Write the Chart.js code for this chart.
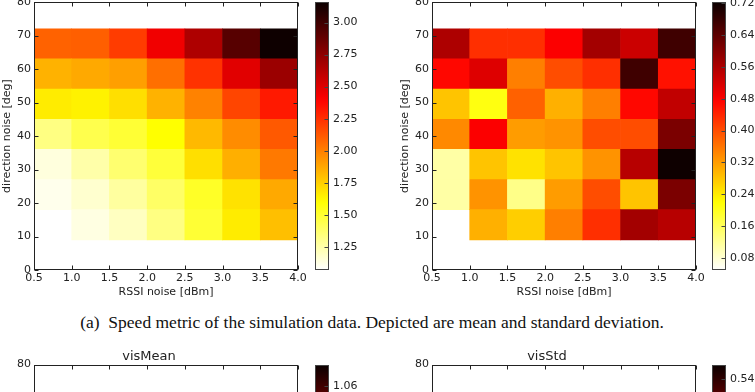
<!DOCTYPE html>
<html lang="en">
<head>
    <meta charset="UTF-8">
    <title>Speed metric heatmaps</title>
    <style>
        body {
            margin: 0;
            width: 755px;
            height: 392px;
            overflow: hidden;
            position: relative;
            background: #fff;
        }
        canvas, .caption {
            position: absolute;
        }
        .caption {
            left: 0;
            top: 311px;
            width: 744px;
            text-align: center;
            font: 17.5px "Liberation Serif", "DejaVu Serif", serif;
            color: #111;
            line-height: 22px;
        }
    </style>
    <script src="https://cdn.jsdelivr.net/npm/chart.js"></script>
</head>
<body>
    <canvas id="meanChart" width="315" height="300" style="left:0;top:0"></canvas>
    <canvas id="meanBar" width="70" height="300" style="left:300px;top:0"></canvas>
    <canvas id="stdChart" width="315" height="300" style="left:398px;top:0"></canvas>
    <canvas id="stdBar" width="70" height="300" style="left:697px;top:0"></canvas>
    <div class="caption">(a)&nbsp; Speed metric of the simulation data. Depicted are mean and standard deviation.</div>
    <canvas id="visMeanChart" width="315" height="323" style="left:0;top:340px"></canvas>
    <canvas id="visMeanBar" width="70" height="323" style="left:300px;top:340px"></canvas>
    <canvas id="visStdChart" width="315" height="323" style="left:398px;top:340px"></canvas>
    <canvas id="visStdBar" width="70" height="323" style="left:697px;top:340px"></canvas>

    <script>
        // cell edges of the grid
        const rssiEdges = [0.5, 1.0, 1.5, 2.0, 2.5, 3.0, 3.5, 4.0];
        const directionEdges = [9, 18, 27, 36, 45, 54, 63, 72];

        // axis ticks
        const xTicks = [0.5, 1.0, 1.5, 2.0, 2.5, 3.0, 3.5, 4.0];
        const yTicks = [0, 10, 20, 30, 40, 50, 60, 70, 80];

        // speed mean, one list per direction row (bottom row first), null = no data
        const meanRow10 = [null, 1.13, 1.20, 1.33, 1.49, 1.66, 1.80];
        const meanRow20 = [1.11, 1.17, 1.27, 1.39, 1.52, 1.69, 1.87];
        const meanRow30 = [1.14, 1.25, 1.37, 1.48, 1.70, 1.85, 2.02];
        const meanRow40 = [1.33, 1.44, 1.49, 1.60, 1.82, 1.96, 2.12];
        const meanRow50 = [1.66, 1.64, 1.70, 1.84, 1.99, 2.18, 2.32];
        const meanRow60 = [1.84, 1.87, 1.90, 2.05, 2.24, 2.49, 2.71];
        const meanRow70 = [2.09, 2.10, 2.21, 2.44, 2.65, 2.92, 3.15];

        // speed standard deviation
        const stdRow10 = [null, 0.30, 0.27, 0.35, 0.43, 0.57, 0.55];
        const stdRow20 = [0.11, 0.33, 0.13, 0.32, 0.40, 0.28, 0.61];
        const stdRow30 = [0.11, 0.28, 0.25, 0.28, 0.33, 0.55, 0.72];
        const stdRow40 = [0.34, 0.48, 0.32, 0.33, 0.40, 0.40, 0.61];
        const stdRow50 = [0.28, 0.21, 0.38, 0.30, 0.35, 0.47, 0.54];
        const stdRow60 = [0.47, 0.51, 0.35, 0.40, 0.43, 0.67, 0.46];
        const stdRow70 = [0.56, 0.43, 0.43, 0.48, 0.57, 0.53, 0.67];

        // colour ranges and colourbar ticks
        const meanRange = [1.07, 3.16];
        const meanBarTicks = [1.25, 1.50, 1.75, 2.00, 2.25, 2.50, 2.75, 3.00];
        const stdRange = [0.05, 0.723];
        const stdBarTicks = [0.08, 0.16, 0.24, 0.32, 0.40, 0.48, 0.56, 0.64, 0.72];
        const visMeanRange = [0.35, 1.12];
        const visMeanBarTicks = [0.46, 0.56, 0.66, 0.76, 0.86, 0.96, 1.06];
        const visStdRange = [0.0, 0.57];
        const visStdBarTicks = [0.06, 0.12, 0.18, 0.24, 0.30, 0.36, 0.42, 0.48, 0.54];

        const FONT = 'DejaVu Sans';
        const INK = '#222';

        // matplotlib "hot_r" colour map
        function hotR(t) {
            const x = 1 - Math.min(1, Math.max(0, t));
            const r = x < 0.365079 ? 0.0416 + (1 - 0.0416) * x / 0.365079 : 1;
            const g = x < 0.365079 ? 0 : (x < 0.746032 ? (x - 0.365079) / (0.746032 - 0.365079) : 1);
            const b = x < 0.746032 ? 0 : (x - 0.746032) / (1 - 0.746032);
            return 'rgb(' + Math.round(r * 255) + ',' + Math.round(g * 255) + ',' + Math.round(b * 255) + ')';
        }

        // draws the frame and inward tick marks like matplotlib
        const frameTicks = {
            id: 'frameTicks',
            afterDraw(chart, args, opts) {
                const { ctx, chartArea: a } = chart;
                const L = Math.round(a.left) + 0.5, R = Math.round(a.right) - 0.5;
                const T = Math.round(a.top) + 0.5, B = Math.round(a.bottom) - 0.5;
                ctx.save();
                ctx.strokeStyle = opts.color || INK;
                ctx.lineWidth = 1;
                ctx.strokeRect(L, T, R - L, B - T);
                ctx.beginPath();
                const len = 4;
                if (opts.xTicks) {
                    chart.scales.x.ticks.forEach(t => {
                        const p = Math.round(chart.scales.x.getPixelForValue(t.value)) + 0.5;
                        ctx.moveTo(p, B); ctx.lineTo(p, B - len);
                        ctx.moveTo(p, T); ctx.lineTo(p, T + len);
                    });
                }
                chart.scales.y.ticks.forEach(t => {
                    const p = Math.round(chart.scales.y.getPixelForValue(t.value)) + 0.5;
                    if (opts.leftTicks) { ctx.moveTo(L, p); ctx.lineTo(L + len, p); }
                    ctx.moveTo(R, p); ctx.lineTo(R - len, p);
                });
                ctx.stroke();
                ctx.restore();
            }
        };

        function rowsToDatasets(rows, range) {
            return rows.map((row, r) => ({
                data: row.map((v, c) => v === null ? null : {
                    x: (rssiEdges[c] + rssiEdges[c + 1]) / 2,
                    y: [directionEdges[r], directionEdges[r + 1]]
                }).filter(d => d !== null),
                backgroundColor: row.filter(v => v !== null)
                    .map(v => hotR((v - range[0]) / (range[1] - range[0]))),
                borderWidth: 0,
                grouped: false,
                barPercentage: 1,
                categoryPercentage: 1
            }));
        }

        function heatmap(id, rows, range, title) {
            new Chart(document.getElementById(id), {
                type: 'bar',
                data: { datasets: rowsToDatasets(rows, range) },
                options: {
                    responsive: false,
                    animation: false,
                    layout: { padding: { left: 0, top: title ? 0 : 2, right: 17, bottom: 0 } },
                    plugins: {
                        legend: { display: false },
                        tooltip: { enabled: false },
                        title: {
                            display: !!title,
                            text: title,
                            color: INK,
                            font: { family: FONT, size: 13, weight: 'normal' },
                            padding: { top: 9, bottom: 0 }
                        },
                        frameTicks: { xTicks: true, leftTicks: true }
                    },
                    scales: {
                        x: {
                            type: 'linear',
                            offset: false,
                            min: rssiEdges[0],
                            max: rssiEdges[rssiEdges.length - 1],
                            afterBuildTicks: s => { s.ticks = xTicks.map(v => ({ value: v })); },
                            afterFit: s => { s.height = 30; s.paddingLeft = 0; s.paddingRight = 0; },
                            grid: { display: false, drawTicks: false },
                            border: { display: false },
                            ticks: {
                                padding: 2,
                                color: INK,
                                font: { family: FONT, size: 11 },
                                maxRotation: 0,
                                autoSkip: false,
                                callback: v => v.toFixed(1)
                            },
                            title: {
                                display: true,
                                text: 'RSSI noise [dBm]',
                                color: INK,
                                font: { family: FONT, size: 11 },
                                padding: { top: 0, bottom: 1.5 }
                            }
                        },
                        y: {
                            min: 0,
                            max: 80,
                            afterBuildTicks: s => { s.ticks = yTicks.map(v => ({ value: v })); },
                            afterFit: s => { s.width = 34; s.paddingTop = 0; s.paddingBottom = 0; },
                            grid: { display: false, drawTicks: false },
                            border: { display: false },
                            ticks: {
                                padding: 3,
                                color: INK,
                                font: { family: FONT, size: 11 }
                            },
                            title: {
                                display: true,
                                text: 'direction noise [deg]',
                                color: INK,
                                font: { family: FONT, size: 11 },
                                padding: { top: 0.5, bottom: 0 }
                            }
                        }
                    }
                },
                plugins: [frameTicks]
            });
        }

        function colorbar(id, range, barTicks, top) {
            new Chart(document.getElementById(id), {
                type: 'bar',
                data: {
                    labels: [''],
                    datasets: [{
                        data: [range],
                        borderWidth: 0,
                        barPercentage: 1,
                        categoryPercentage: 1,
                        backgroundColor: ctx => {
                            const chart = ctx.chart;
                            if (!chart.chartArea) return null;
                            const y = chart.scales.y;
                            const grad = chart.ctx.createLinearGradient(0, y.getPixelForValue(range[0]), 0, y.getPixelForValue(range[1]));
                            for (let i = 0; i <= 40; i++) grad.addColorStop(i / 40, hotR(i / 40));
                            return grad;
                        }
                    }]
                },
                options: {
                    responsive: false,
                    animation: false,
                    layout: { padding: { left: 15, top: top, right: 0, bottom: 30 } },
                    plugins: {
                        legend: { display: false },
                        tooltip: { enabled: false },
                        frameTicks: { xTicks: false, leftTicks: false, color: '#444' }
                    },
                    scales: {
                        x: { display: false },
                        y: {
                            position: 'right',
                            min: range[0],
                            max: range[1],
                            afterBuildTicks: s => { s.ticks = barTicks.map(v => ({ value: v })); },
                            afterFit: s => { s.width = 70 - 29; s.paddingTop = 0; s.paddingBottom = 0; },
                            grid: { display: false, drawTicks: false },
                            border: { display: false },
                            ticks: {
                                padding: 4,
                                color: INK,
                                font: { family: FONT, size: 11 },
                                callback: v => v.toFixed(2)
                            }
                        }
                    }
                },
                plugins: [frameTicks]
            });
        }

        const meanRows = [meanRow10, meanRow20, meanRow30, meanRow40, meanRow50, meanRow60, meanRow70];
        const stdRows = [stdRow10, stdRow20, stdRow30, stdRow40, stdRow50, stdRow60, stdRow70];

        heatmap('meanChart', meanRows, meanRange);
        colorbar('meanBar', meanRange, meanBarTicks, 2);
        heatmap('stdChart', stdRows, stdRange);
        colorbar('stdBar', stdRange, stdBarTicks, 2);

        // lower panels: only their top edge is inside the picture
        heatmap('visMeanChart', [], visMeanRange, 'visMean');
        colorbar('visMeanBar', visMeanRange, visMeanBarTicks, 25);
        heatmap('visStdChart', [], visStdRange, 'visStd');
        colorbar('visStdBar', visStdRange, visStdBarTicks, 25);
    </script>
</body>
</html>
